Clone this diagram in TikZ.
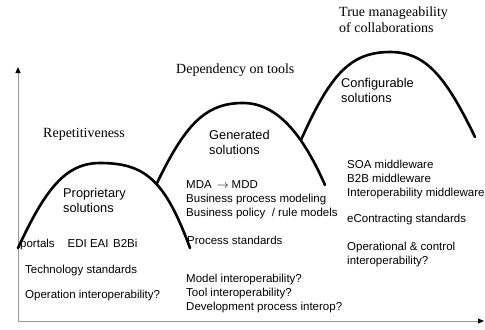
\documentclass[tikz,border=0pt]{standalone}
\usepackage{fontspec}
\setmainfont{Liberation Serif}
\setsansfont{Liberation Sans}
\usetikzlibrary{arrows.meta}
\begin{document}
\begin{tikzpicture}[x=1bp,y=-1bp,
  hump/.style={line width=2.6bp, line cap=round},
  axis/.style={draw=black!40, line width=1bp, -{Triangle[color=black,length=6bp,width=5bp]}},
  % multi-line nodes are placed by the baseline of their last line
  phase/.style={font=\fontsize{14bp}{16bp}\selectfont, inner sep=0pt, anchor=base west, align=left},
  level/.style={font=\sffamily\fontsize{12.8bp}{15bp}\selectfont, inner sep=0pt, anchor=base west, align=left},
  item/.style={font=\sffamily\fontsize{11.5bp}{14bp}\selectfont, inner sep=0pt, anchor=base west, align=left}]
\useasboundingbox (0,0) rectangle (485,329);

% axes
\coordinate (origin) at (18,321);
\coordinate (ytop) at (18,67);
\coordinate (xend) at (484,321);
\draw[axis] (origin) -- (ytop);
\draw[axis] (origin) -- (xend);

% three successive humps
\draw[hump] (18,248) .. controls (45,190) and (65,163) .. (100,163)
                     .. controls (145,163) and (165,180) .. (190,248);
\draw[hump] (156.5,184) .. controls (185,125) and (205,103) .. (243,103)
                        .. controls (280,103) and (305,140) .. (325,185);
\draw[hump] (301,140) .. controls (330,75) and (350,52) .. (390,52)
                      .. controls (425,52) and (445,75) .. (475,137);

% phase titles
\node[phase] (rep)  at (43,137) {Repetitiveness};
\node[phase] (dep)  at (176,73) {Dependency on tools};
\node[phase] (true) at (339,32) {True manageability\\of collaborations};

% solution levels
\node[level] (prop) at (63,212) {Proprietary\\solutions};
\node[level] (gen)  at (209,154) {Generated\\solutions};
\node[level] (conf) at (341,102) {Configurable\\solutions};

% first hump
\node[item] (portals) at (20,247.5) {portals\hspace{13bp}EDI EAI\hspace{4.5bp}B2Bi};
\node[item] (techstd) at (25,273.5) {Technology standards};
\node[item] (opint)   at (25,298.5) {Operation interoperability?};

% second hump
\node[item] (mda)     at (186,216.5) {MDA\hspace{5bp}$\rightarrow$\hspace{3bp}MDD\\Business process modeling\\Business policy\ \ / rule models};
\node[item] (procstd) at (187,244.5) {Process standards};
\node[item] (modint)  at (186,310) {Model interoperability?\\Tool interoperability?\\Development process interop?};

% third hump
\node[item] (soa)   at (347,196) {SOA middleware\\B2B middleware\\Interoperability middleware};
\node[item] (econ)  at (347,222.5) {eContracting standards};
\node[item] (opctl) at (347,264.5) {Operational \& control\\interoperability?};
\end{tikzpicture}
\end{document}
